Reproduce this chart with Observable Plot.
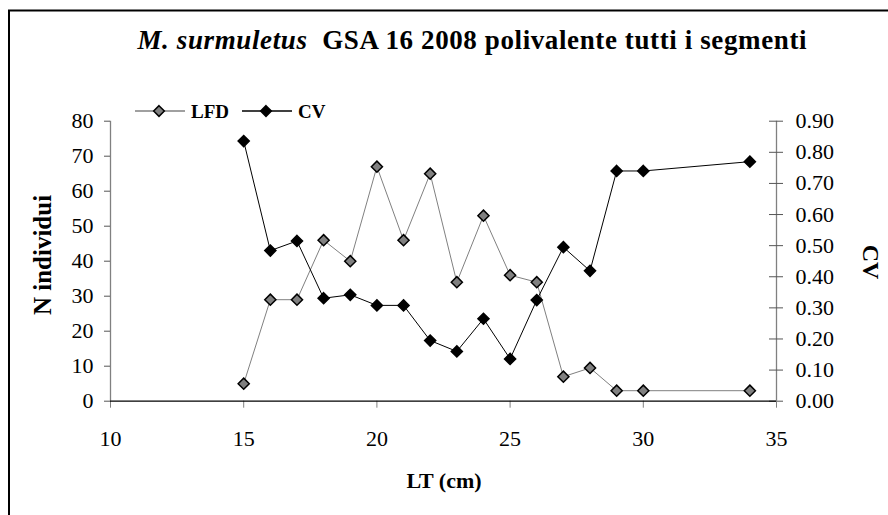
<!DOCTYPE html>
<html>
<head>
<meta charset="utf-8">
<script src="https://cdn.jsdelivr.net/npm/d3@7"></script>
<script src="https://cdn.jsdelivr.net/npm/@observablehq/plot@0.6"></script>
<style>
  html, body { margin: 0; padding: 0; background: #fff; }
  #wrap { position: relative; width: 888px; height: 515px; overflow: hidden; }
  #wrap > svg { position: absolute; left: 0; top: 0; }
  #overlay { pointer-events: none; }
</style>
</head>
<body>
<div id="wrap"></div>
<script>
// ---- data ----
const lengths = [15, 16, 17, 18, 19, 20, 21, 22, 23, 24, 25, 26, 27, 28, 29, 30, 34];
const lfd = [5, 29, 29, 46, 40, 67, 46, 65, 34, 53, 36, 34, 7, 9.5, 3, 3, 3];
const cv = [0.836, 0.484, 0.515, 0.331, 0.342, 0.308, 0.308, 0.195, 0.16, 0.265, 0.136, 0.325, 0.495, 0.419, 0.74, 0.74, 0.77];
const xTicks = [10, 15, 20, 25, 30, 35];
const lfdTicks = [0, 10, 20, 30, 40, 50, 60, 70, 80];
const cvTicks = [0, 0.1, 0.2, 0.3, 0.4, 0.5, 0.6, 0.7, 0.8, 0.9];
const seriesNames = ["LFD", "CV"];
const titleItalic = "M. surmuletus";
const titleRest = "GSA 16 2008 polivalente tutti i segmenti";
const yLabel = "N individui";
const y2Label = "CV";
const xLabel = "LT (cm)";

const LFD_MAX = 80, CV_MAX = 0.9;
const toY = v => v * LFD_MAX / CV_MAX;
const data = lengths.map((l, i) => ({len: l, lfd: lfd[i], cv: toY(cv[i])}));

const FONT = "'Liberation Serif', 'Times New Roman', serif";
const gray = "#808080";

const chart = Plot.plot({
  width: 888,
  height: 515,
  marginLeft: 110,
  marginRight: 112,
  marginTop: 120.7,
  marginBottom: 114.3,
  x: {domain: [10, 35]},
  y: {domain: [0, 80]},
  style: {fontFamily: FONT, fontSize: "22px", background: "transparent", color: "black"},
  marks: [
    Plot.ruleX([10], {stroke: gray, strokeWidth: 1.3}),
    Plot.ruleX([35], {stroke: gray, strokeWidth: 1.3}),
    Plot.axisY({anchor: "left", ticks: lfdTicks, tickFormat: d => String(d), tickSize: 6, tickPadding: 11,
      stroke: "#555", fontSize: 22, label: null}),
    Plot.axisY({anchor: "right", ticks: cvTicks.map(toY), tickFormat: d => (d * CV_MAX / LFD_MAX).toFixed(2),
      tickSize: 0, tickPadding: 19, fontSize: 22, label: null}),
    Plot.ruleY(cvTicks.map(toY), {x1: 35, x2: 35, insetLeft: -7, insetRight: -7, stroke: "#555"}),
    Plot.axisX({ticks: xTicks, tickFormat: d => String(d), tickSize: 7, tickPadding: 22, stroke: gray,
      fontSize: 22, label: null}),
    Plot.ruleY([0], {stroke: "black", strokeWidth: 1.3}),
    Plot.line(data, {x: "len", y: "lfd", stroke: gray, strokeWidth: 1}),
    Plot.dot(data, {x: "len", y: "lfd", symbol: "diamond2", r: 5, fill: gray, stroke: "black", strokeWidth: 1.5}),
    Plot.line(data, {x: "len", y: "cv", stroke: "black", strokeWidth: 1}),
    Plot.dot(data, {x: "len", y: "cv", symbol: "diamond2", r: 5, fill: "black", stroke: "black", strokeWidth: 1.5})
  ]
});
const wrap = document.getElementById("wrap");
wrap.appendChild(chart);

// ---- overlay: frame, title, axis labels, legend ----
const svg = d3.select(wrap).append("svg")
  .attr("id", "overlay")
  .attr("width", 888).attr("height", 515)
  .style("font-family", FONT);

svg.append("path")
  .attr("d", "M9,560 L9,10.5 L900,10.5")
  .attr("fill", "none").attr("stroke", "black").attr("stroke-width", 2);

const title = svg.append("text")
  .attr("x", 472).attr("y", 49)
  .attr("text-anchor", "middle")
  .attr("font-size", 27).attr("font-weight", "bold")
  .attr("textLength", 669).attr("lengthAdjust", "spacing")
  .style("white-space", "pre");
title.append("tspan").attr("font-style", "italic").text(titleItalic);
title.append("tspan").text("  " + titleRest);

svg.append("text")
  .attr("transform", "translate(51,255) rotate(-90)")
  .attr("text-anchor", "middle")
  .attr("font-size", 25).attr("font-weight", "bold")
  .text(yLabel);

svg.append("text")
  .attr("transform", "translate(863,262) rotate(90)")
  .attr("text-anchor", "middle")
  .attr("font-size", 24).attr("font-weight", "bold")
  .text(y2Label);

svg.append("text")
  .attr("x", 444).attr("y", 488)
  .attr("text-anchor", "middle")
  .attr("font-size", 22).attr("font-weight", "bold")
  .text(xLabel);

// legend
const legendItems = [
  {name: seriesNames[0], line: gray, fill: gray, x0: 135},
  {name: seriesNames[1], line: "black", fill: "black", x0: 242}
];
const diamond = d3.symbol(d3.symbolDiamond2, Math.PI * 4.8 * 4.8)();
legendItems.forEach(it => {
  const g = svg.append("g").attr("transform", `translate(${it.x0},111)`);
  g.append("line").attr("x1", 0).attr("x2", 50).attr("y1", 0).attr("y2", 0)
    .attr("stroke", it.line).attr("stroke-width", 1.3);
  g.append("path").attr("d", diamond).attr("transform", "translate(24,0)")
    .attr("fill", it.fill).attr("stroke", "black").attr("stroke-width", 1.5);
  g.append("text").attr("x", 56).attr("y", 6.5)
    .attr("font-size", 19).attr("font-weight", "bold").text(it.name);
});
</script>
</body>
</html>
